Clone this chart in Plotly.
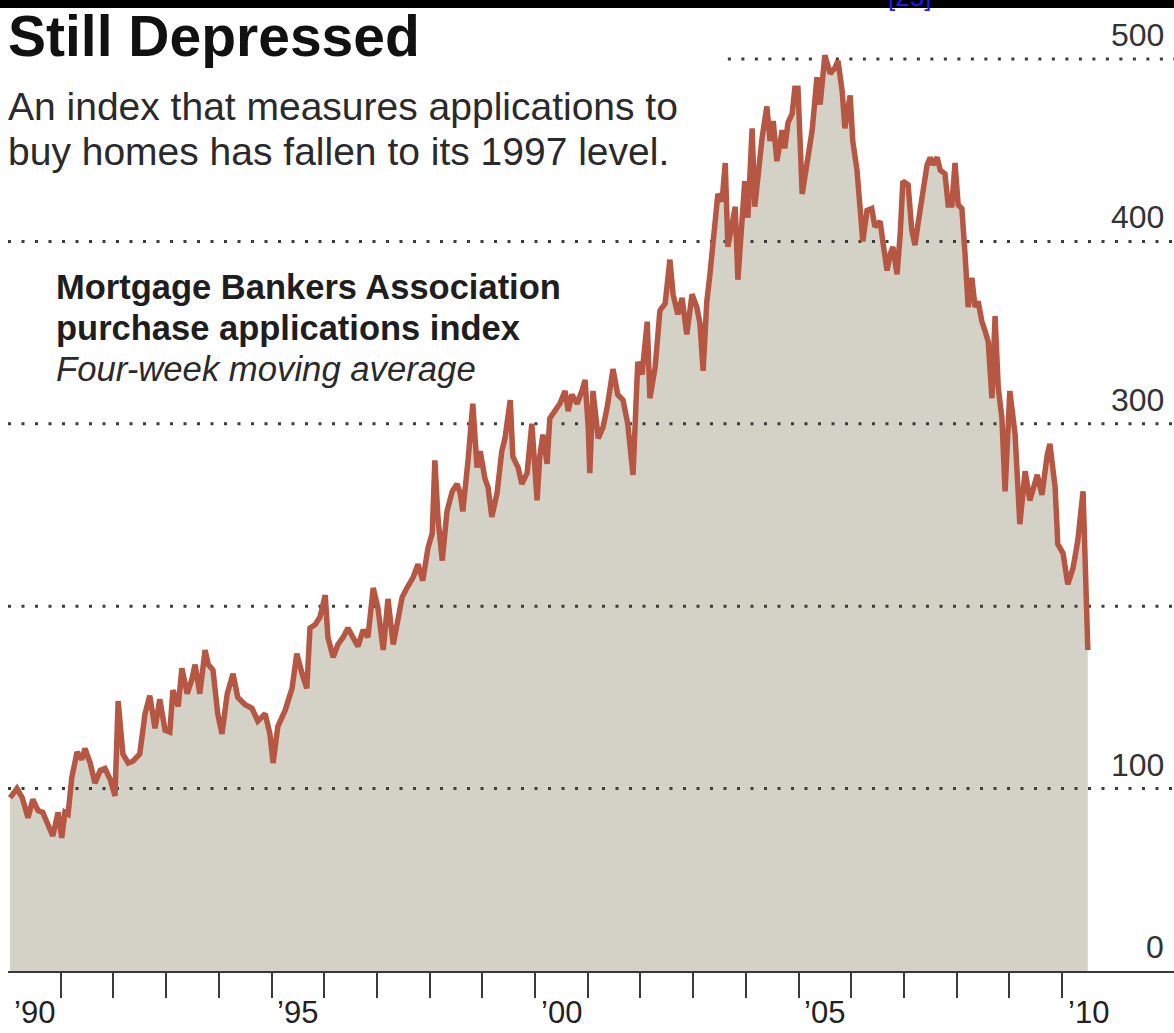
import plotly.graph_objects as go

# ---------------- data ----------------
years = [
    1990.04, 1990.08, 1990.17, 1990.27, 1990.38, 1990.47, 1990.57, 1990.66, 1990.76, 1990.85,
    1990.95, 1991.02, 1991.08, 1991.14, 1991.21, 1991.31, 1991.40, 1991.46, 1991.56, 1991.65,
    1991.75, 1991.84, 1991.94, 1992.03, 1992.09, 1992.18, 1992.28, 1992.37, 1992.50, 1992.60,
    1992.69, 1992.79, 1992.88, 1992.98, 1993.07, 1993.13, 1993.23, 1993.30, 1993.40, 1993.49,
    1993.55, 1993.64, 1993.74, 1993.80, 1993.89, 1993.98, 1994.06, 1994.16, 1994.27, 1994.36,
    1994.50, 1994.63, 1994.74, 1994.88, 1994.97, 1995.03, 1995.12, 1995.26, 1995.39, 1995.48,
    1995.58, 1995.67, 1995.73, 1995.83, 1995.92, 1996.02, 1996.07, 1996.17, 1996.26, 1996.36,
    1996.45, 1996.55, 1996.64, 1996.74, 1996.83, 1996.93, 1997.02, 1997.12, 1997.21, 1997.31,
    1997.40, 1997.48, 1997.57, 1997.69, 1997.78, 1997.87, 1997.97, 1998.05, 1998.10, 1998.16,
    1998.24, 1998.33, 1998.43, 1998.52, 1998.58, 1998.63, 1998.73, 1998.82, 1998.90, 1998.96,
    1999.05, 1999.11, 1999.18, 1999.28, 1999.37, 1999.43, 1999.53, 1999.58, 1999.68, 1999.75,
    1999.85, 1999.94, 2000.04, 2000.09, 2000.15, 2000.23, 2000.28, 2000.38, 2000.47, 2000.57,
    2000.63, 2000.70, 2000.80, 2000.89, 2000.95, 2001.01, 2001.04, 2001.10, 2001.20, 2001.29,
    2001.37, 2001.48, 2001.57, 2001.67, 2001.76, 2001.86, 2001.95, 2002.03, 2002.13, 2002.18,
    2002.28, 2002.37, 2002.47, 2002.56, 2002.62, 2002.71, 2002.79, 2002.88, 2002.98, 2003.07,
    2003.13, 2003.19, 2003.26, 2003.32, 2003.42, 2003.47, 2003.55, 2003.61, 2003.66, 2003.74,
    2003.80, 2003.85, 2003.93, 2003.98, 2004.04, 2004.12, 2004.17, 2004.23, 2004.31, 2004.40,
    2004.46, 2004.52, 2004.59, 2004.69, 2004.74, 2004.80, 2004.88, 2004.93, 2004.99, 2005.07,
    2005.16, 2005.26, 2005.35, 2005.41, 2005.50, 2005.60, 2005.69, 2005.75, 2005.83, 2005.88,
    2005.98, 2006.03, 2006.11, 2006.17, 2006.22, 2006.30, 2006.39, 2006.45, 2006.55, 2006.60,
    2006.68, 2006.74, 2006.79, 2006.87, 2006.93, 2006.98, 2007.08, 2007.15, 2007.21, 2007.27,
    2007.36, 2007.44, 2007.50, 2007.55, 2007.63, 2007.69, 2007.78, 2007.84, 2007.91, 2007.97,
    2008.03, 2008.10, 2008.16, 2008.22, 2008.29, 2008.35, 2008.41, 2008.48, 2008.54, 2008.60,
    2008.67, 2008.73, 2008.79, 2008.86, 2008.92, 2009.01, 2009.11, 2009.20, 2009.30, 2009.39,
    2009.53, 2009.62, 2009.72, 2009.77, 2009.87, 2009.92, 2010.02, 2010.11, 2010.21, 2010.30,
    2010.40, 2010.44, 2010.49,
]
index_values = [
    95, 97, 100, 95, 84, 94, 88, 87, 79, 74,
    87, 73, 87, 86, 106, 120, 116, 122, 114, 103,
    110, 111, 105, 96, 148, 119, 114, 115, 119, 141,
    151, 133, 149, 132, 131, 154, 145, 166, 152, 160,
    168, 152, 176, 168, 165, 141, 130, 152, 163, 150,
    146, 144, 137, 141, 130, 114, 134, 143, 155, 174,
    163, 155, 188, 190, 194, 206, 183, 172, 179, 183,
    188, 183, 178, 187, 183, 210, 199, 176, 204, 179,
    194, 205, 210, 216, 223, 214, 232, 240, 280, 248,
    225, 252, 263, 267, 262, 252, 280, 311, 276, 285,
    270, 265, 249, 262, 285, 292, 313, 282, 276, 267,
    273, 300, 258, 282, 294, 278, 303, 307, 311, 318,
    307, 316, 311, 318, 324, 298, 273, 318, 292, 298,
    309, 330, 316, 313, 300, 272, 334, 327, 356, 314,
    331, 362, 366, 390, 371, 360, 369, 349, 371, 364,
    355, 329, 367, 382, 413, 426, 422, 443, 397, 408,
    419, 379, 419, 433, 413, 462, 419, 439, 457, 474,
    455, 466, 444, 461, 451, 465, 470, 484, 484, 426,
    442, 461, 490, 475, 502, 492, 495, 499, 482, 462,
    480, 455, 439, 420, 400, 417, 418, 408, 411, 400,
    384, 393, 397, 382, 404, 433, 431, 406, 398, 410,
    426, 442, 446, 442, 446, 439, 437, 420, 420, 443,
    420, 418, 393, 364, 380, 364, 367, 356, 351, 345,
    314, 359, 320, 303, 263, 318, 294, 245, 274, 258,
    272, 261, 283, 289, 265, 234, 229, 212, 221, 236,
    263, 225, 176,
]

grid_levels = [100, 200, 300, 400, 500]
grid_starts = [1990, 1990, 1990, 1990, 2003.66]
y_tick_labels = [0, 100, 300, 400, 500]
x_tick_years = list(range(1991, 2011))
x_label_years = [1990, 1995, 2000, 2005, 2010]
x_label_text = ["\u201990", "\u201995", "\u201900", "\u201905", "\u201910"]

# ---------------- layout geometry ----------------
W, H = 1174, 1033
ML, MR, MT, MB = 8, 0, 20, 62
PX_PER_YEAR = 52.7
PX_PER_UNIT = 1.824
X0 = 1990
X1 = X0 + (W - ML - MR) / PX_PER_YEAR
Y1 = (H - MT - MB) / PX_PER_UNIT
PW, PH = W - ML - MR, H - MT - MB


def px(xp):
    return (xp - ML) / PW


def py(yp):
    return (H - MB - yp) / PH


FONT = "Liberation Sans, Arial, Helvetica, sans-serif"
FILL = "#d4d2c6"
LINE = "#b65743"
GRID = "#3c3c3c"

fig = go.Figure()
fig.add_trace(go.Scatter(
    x=years, y=index_values, mode="lines", fill="tozeroy",
    fillcolor=FILL, line=dict(width=0, color=FILL), hoverinfo="skip"))
for lvl, start in zip(grid_levels, grid_starts):
    fig.add_trace(go.Scatter(
        x=[start, X1], y=[lvl, lvl], mode="lines",
        line=dict(color=GRID, width=3, dash="3px,10.5px"), hoverinfo="skip"))
fig.add_trace(go.Scatter(
    x=years, y=index_values, mode="lines",
    line=dict(color=LINE, width=5.5, shape="linear"), name="Index"))

annotations = []
# y-axis labels (placed above their gridlines at the right)
for v in y_tick_labels:
    annotations.append(dict(
        x=px(1166), xref="paper", y=v, yref="y", xanchor="right", yanchor="middle",
        yshift=24, text=str(v), showarrow=False,
        font=dict(family=FONT, size=32, color="#333333")))
# x labels centred in each year
for yr, t in zip(x_label_years, x_label_text):
    annotations.append(dict(
        x=yr + 0.5, xref="x", y=py(1012), yref="paper", xanchor="center", yanchor="middle",
        text=t, showarrow=False, font=dict(family=FONT, size=31, color="#222222")))

annotations += [
    dict(x=px(6), y=py(36), xref="paper", yref="paper", xanchor="left", yanchor="middle",
         text="<b>Still Depressed</b>", showarrow=False,
         font=dict(family=FONT, size=57, color="#111111")),
    dict(x=px(6), y=py(106), xref="paper", yref="paper", xanchor="left", yanchor="middle",
         text="An index that measures applications to", showarrow=False,
         font=dict(family=FONT, size=39, color="#2a2a2a")),
    dict(x=px(6), y=py(151), xref="paper", yref="paper", xanchor="left", yanchor="middle",
         text="buy homes has fallen to its 1997 level.", showarrow=False,
         font=dict(family=FONT, size=39, color="#2a2a2a")),
    dict(x=px(54), y=py(287), xref="paper", yref="paper", xanchor="left", yanchor="middle",
         text="<b>Mortgage Bankers Association</b>", showarrow=False,
         font=dict(family=FONT, size=34.5, color="#1e1e1e")),
    dict(x=px(54), y=py(328), xref="paper", yref="paper", xanchor="left", yanchor="middle",
         text="<b>purchase applications index</b>", showarrow=False,
         font=dict(family=FONT, size=34.5, color="#1e1e1e")),
    dict(x=px(54), y=py(369), xref="paper", yref="paper", xanchor="left", yanchor="middle",
         text="<i>Four-week moving average</i>", showarrow=False,
         font=dict(family=FONT, size=34.7, color="#2a2a2a")),
    dict(x=px(909), y=py(14), xref="paper", yref="paper", xanchor="center", yanchor="bottom",
         text="[25]", showarrow=False,
         font=dict(family=FONT, size=26, color="#1a1aff")),
]

shapes = [
    dict(type="rect", xref="paper", yref="paper", x0=px(0), x1=px(W), y0=py(0), y1=py(8),
         fillcolor="#000000", line=dict(width=0), layer="below"),
]

fig.update_layout(
    width=W, height=H,
    margin=dict(l=ML, r=MR, t=MT, b=MB, pad=0),
    paper_bgcolor="white", plot_bgcolor="white",
    showlegend=False,
    xaxis=dict(range=[X0, X1], showgrid=False, zeroline=False, showline=True,
               linecolor="#3a3a3a", linewidth=2, ticks="outside", tickvals=x_tick_years,
               ticklen=25, tickwidth=2, tickcolor="#3a3a3a", showticklabels=False,
               fixedrange=True),
    yaxis=dict(range=[0, Y1], visible=False, fixedrange=True),
    annotations=annotations,
    shapes=shapes,
)

fig.write_html(
    "out.html",
    config={"displayModeBar": False},
    post_script="document.body.style.margin='0';document.body.style.padding='0';",
)
